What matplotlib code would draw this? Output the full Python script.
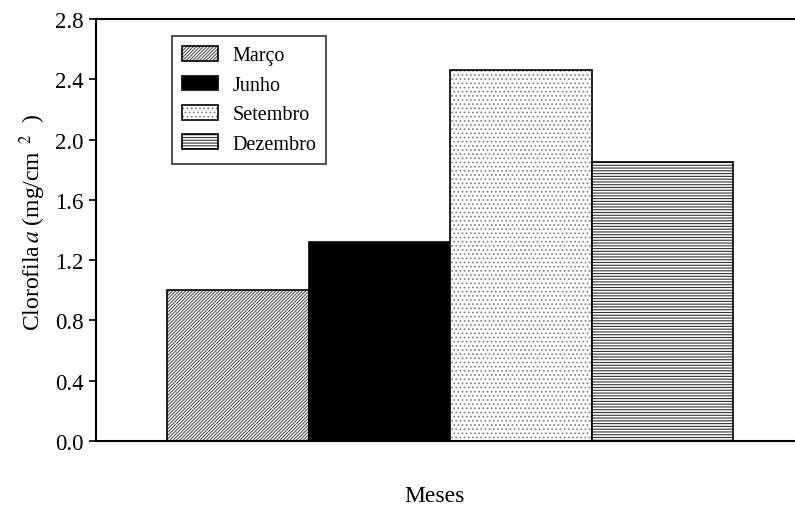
import matplotlib
matplotlib.use("Agg")
import matplotlib.pyplot as plt

categories = ["Março", "Junho", "Setembro", "Dezembro"]
values = [1.00, 1.32, 2.46, 1.85]
yticks = [0.0, 0.4, 0.8, 1.2, 1.6, 2.0, 2.4, 2.8]

plt.rcParams['font.family'] = ['Liberation Serif', 'DejaVu Serif']
plt.rcParams['mathtext.fontset'] = 'stix'
plt.rcParams['hatch.linewidth'] = 0.8

fig = plt.figure(figsize=(7.95, 5.06), dpi=100)
ax = fig.add_axes([96/795, 1 - 442/506, 700/795, 422/506])

styles = [
    dict(facecolor='white', hatch='//////////', hatchcolor='#555555'),
    dict(facecolor='black', hatch=None, hatchcolor='black'),
    dict(facecolor='white', hatch='....', hatchcolor='#888888'),
    dict(facecolor='white', hatch='------', hatchcolor='#333333'),
]

for i, (c, v, s) in enumerate(zip(categories, values, styles)):
    b = ax.bar(i, v, width=1.0, facecolor=s['facecolor'], edgecolor='black',
               linewidth=1.2, hatch=s['hatch'], label=c)
    for p in b:
        if s['hatch']:
            p._hatch_color = matplotlib.colors.to_rgba(s['hatchcolor'])

ax.set_xlim(-1.002, 3.945)
ax.set_ylim(0, 2.8)
ax.set_yticks(yticks)
ax.set_yticklabels([f"{t:.1f}" for t in yticks], fontsize=16.5)
ax.set_xticks([])
ax.tick_params(axis='y', direction='out', length=5, width=1.2, pad=4)
for sp in ['left', 'top', 'bottom']:
    ax.spines[sp].set_linewidth(1.5)
ax.spines['right'].set_visible(False)

ax.set_ylabel(r"Clorofila$\,a$ (mg/cm$^{\ \ 2}$  )", fontsize=17)
ax.yaxis.set_label_coords(-0.068, 0.52)
fig.text(435/795, 1 - 497/506, "Meses", ha='center', va='center', fontsize=17)

leg = ax.legend(loc='upper left', bbox_to_anchor=((172-96)/700, 1 - (37-20)/422),
                fontsize=14.5, frameon=True, fancybox=False, edgecolor='black',
                handlelength=1.8, handleheight=0.75, borderpad=0.5, labelspacing=0.5,
                handletextpad=0.7, borderaxespad=0)
leg.get_frame().set_linewidth(1.2)

fig.savefig("out.png", dpi=100)
